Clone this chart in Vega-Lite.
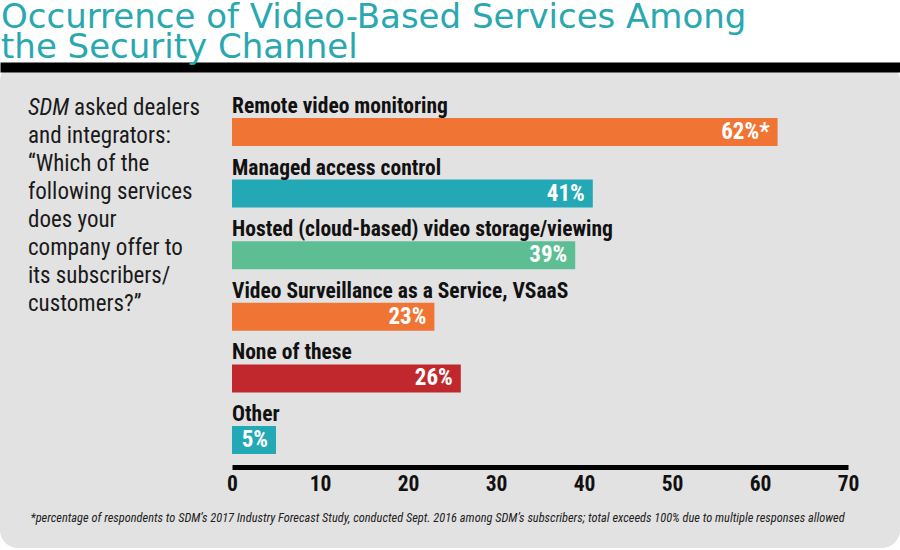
{
  "$schema": "https://vega.github.io/schema/vega-lite/v6.json",
  "width": 900,
  "height": 485,
  "autosize": "none",
  "padding": {"top": 63, "left": 0, "right": 0, "bottom": 2},
  "background": "#ffffff",
  "title": {
    "text": ["Occurrence of Video-Based Services Among", "the Security Channel"],
    "anchor": "start",
    "frame": "group",
    "font": "DejaVu Sans",
    "fontSize": 34,
    "fontWeight": "normal",
    "color": "#29a8b0",
    "lineHeight": 30,
    "offset": -2,
    "dx": 1
  },
  "datasets": {
    "services": [
      {"service": "Remote video monitoring", "pct": 62, "label": "62%*"},
      {"service": "Managed access control", "pct": 41, "label": "41%"},
      {"service": "Hosted (cloud-based) video storage/viewing", "pct": 39, "label": "39%"},
      {"service": "Video Surveillance as a Service, VSaaS", "pct": 23, "label": "23%"},
      {"service": "None of these", "pct": 26, "label": "26%"},
      {"service": "Other", "pct": 5, "label": "5%"}
    ],
    "question": [
      {"line": 1, "part": "lead", "text": "SDM"},
      {"line": 1, "part": "first", "text": "asked dealers"},
      {"line": 2, "part": "body", "text": "and integrators:"},
      {"line": 3, "part": "body", "text": "\u201cWhich of the"},
      {"line": 4, "part": "body", "text": "following services"},
      {"line": 5, "part": "body", "text": "does your"},
      {"line": 6, "part": "body", "text": "company offer to"},
      {"line": 7, "part": "body", "text": "its subscribers/"},
      {"line": 8, "part": "body", "text": "customers?\u201d"}
    ]
  },
  "layer": [
    {
      "data": {"name": "services"},
      "encoding": {
        "y": {
          "field": "service",
          "type": "nominal",
          "sort": null,
          "scale": {"range": [55, 391], "paddingInner": 0.5455, "paddingOuter": 0},
          "axis": null
        }
      },
      "layer": [
        {
          "mark": {"type": "bar"},
          "encoding": {
            "x": {
              "field": "pct",
              "type": "quantitative",
              "scale": {"domain": [0, 70], "range": [232, 848], "nice": false, "zero": true},
              "axis": {
                "orient": "bottom",
                "values": [0, 10, 20, 30, 40, 50, 60, 70],
                "offset": -81,
                "grid": false,
                "ticks": false,
                "domain": true,
                "domainColor": "#000000",
                "domainWidth": 5,
                "domainCap": "butt",
                "labelFont": "Roboto Condensed",
                "labelFontWeight": "bold",
                "labelFontSize": 21.5,
                "labelColor": "#111111",
                "labelPadding": 6,
                "labelFlush": false,
                "labelOverlap": false,
                "title": "*percentage of respondents to SDM\u2019s 2017 Industry Forecast Study, conducted Sept. 2016 among SDM\u2019s subscribers; total exceeds 100% due to multiple responses allowed",
                "titleX": 30,
                "titleY": 50,
                "titleAlign": "left",
                "titleBaseline": "middle",
                "titleAngle": 0,
                "titleFont": "Roboto Condensed",
                "titleFontSize": 12.4,
                "titleFontStyle": "italic",
                "titleFontWeight": "normal",
                "titleColor": "#222222",
                "titleLimit": 1000
              }
            },
            "color": {
              "field": "service",
              "type": "nominal",
              "scale": {
                "domain": [
                  "Remote video monitoring",
                  "Managed access control",
                  "Hosted (cloud-based) video storage/viewing",
                  "Video Surveillance as a Service, VSaaS",
                  "None of these",
                  "Other"
                ],
                "range": ["#f07433", "#22a9b5", "#5dbe94", "#f07433", "#c0282d", "#22a9b5"]
              },
              "legend": null
            }
          }
        },
        {
          "mark": {
            "type": "text",
            "align": "left",
            "baseline": "alphabetic",
            "dy": -5,
            "font": "Roboto Condensed",
            "fontWeight": "bold",
            "fontSize": 21.5,
            "color": "#111111"
          },
          "encoding": {
            "x": {"datum": 0, "type": "quantitative"},
            "y": {"field": "service", "type": "nominal", "sort": null, "bandPosition": 0},
            "text": {"field": "service"}
          }
        },
        {
          "mark": {
            "type": "text",
            "align": "right",
            "baseline": "middle",
            "dx": -8,
            "font": "Roboto Condensed",
            "fontWeight": "bold",
            "fontSize": 23,
            "color": "#ffffff"
          },
          "encoding": {
            "x": {"field": "pct", "type": "quantitative"},
            "text": {"field": "label"}
          }
        }
      ]
    },
    {
      "data": {"name": "question"},
      "encoding": {
        "x": {
          "datum": 28,
          "type": "quantitative",
          "scale": {"domain": [0, 900], "range": [0, 900], "nice": false, "zero": false},
          "axis": {
            "orient": "top",
            "offset": -4,
            "grid": false,
            "ticks": false,
            "labels": false,
            "domain": true,
            "domainColor": "#000000",
            "domainWidth": 10,
            "domainCap": "butt",
            "title": null
          }
        },
        "y": {
          "field": "line",
          "type": "quantitative",
          "scale": {"domain": [1, 8], "range": [45, 241], "nice": false, "zero": false},
          "axis": null
        },
        "text": {"field": "text"}
      },
      "layer": [
        {
          "transform": [{"filter": "datum.part === 'lead'"}],
          "mark": {
            "type": "text",
            "align": "left",
            "baseline": "middle",
            "font": "Roboto Condensed",
            "fontStyle": "italic",
            "fontSize": 23,
            "color": "#1a1a1a"
          }
        },
        {
          "transform": [{"filter": "datum.part === 'first'"}],
          "mark": {
            "type": "text",
            "align": "left",
            "baseline": "middle",
            "dx": 46,
            "font": "Roboto Condensed",
            "fontSize": 23,
            "color": "#1a1a1a"
          }
        },
        {
          "transform": [{"filter": "datum.part === 'body'"}],
          "mark": {
            "type": "text",
            "align": "left",
            "baseline": "middle",
            "font": "Roboto Condensed",
            "fontSize": 23,
            "color": "#1a1a1a"
          }
        }
      ]
    }
  ],
  "resolve": {
    "scale": {"x": "independent", "y": "independent", "color": "independent"},
    "axis": {"x": "independent", "y": "independent"}
  },
  "config": {
    "view": {"fill": "#e3e2e2", "stroke": null, "cornerRadius": 18}
  }
}
